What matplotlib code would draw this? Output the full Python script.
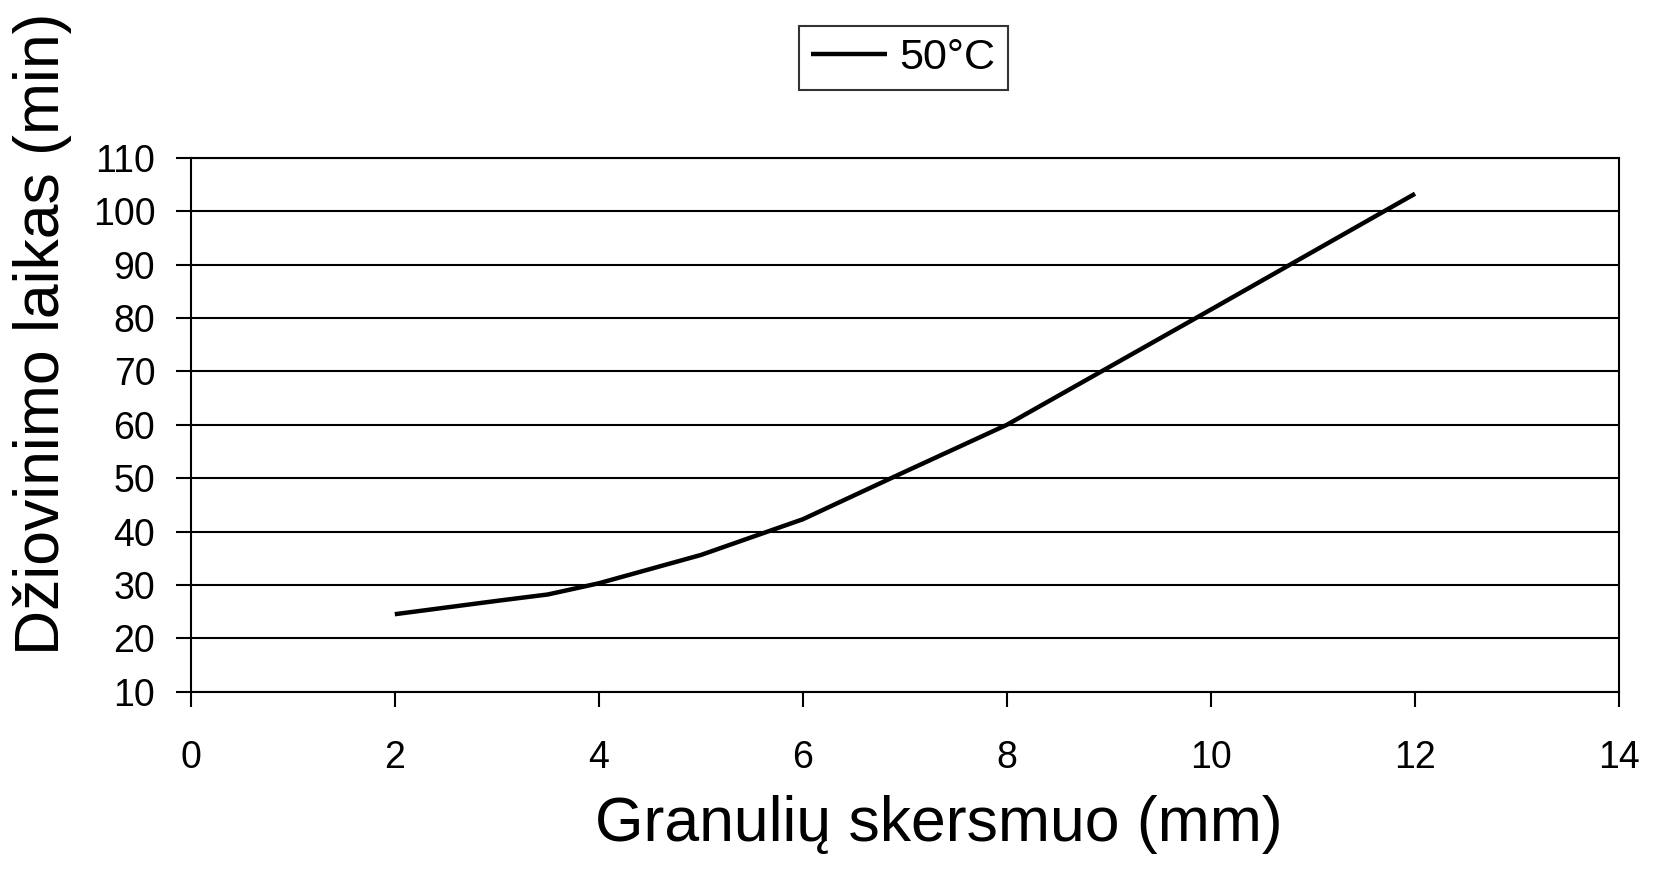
import matplotlib.pyplot as plt
import numpy as np

plt.rcParams['font.family'] = ['Liberation Sans', 'DejaVu Sans']

## data
skersmuo = [2, 3, 3.5, 4, 5, 6, 7, 8, 10, 12]          # mm
laikas = [24.5, 27.0, 28.2, 30.3, 35.6, 42.3, 51.2, 60.0, 81.6, 103.3]  # min
series_label = '50°C'

x_ticks = [0, 2, 4, 6, 8, 10, 12, 14]
y_ticks = [10, 20, 30, 40, 50, 60, 70, 80, 90, 100, 110]

fig = plt.figure(figsize=(16.53, 8.80), dpi=100)
ax = fig.add_axes([0.1154, 0.2141, 0.8641, 0.6064])

ax.plot(skersmuo, laikas, color='black', lw=3.2, label=series_label,
        solid_capstyle='butt', zorder=3)

ax.set_xlim(0, 14)
ax.set_ylim(10, 110)
ax.set_xticks(x_ticks)
ax.set_yticks(y_ticks)

# horizontal grid only
for v in y_ticks:
    ax.axhline(v, color='black', lw=1.5, zorder=1)

for s in ax.spines.values():
    s.set_color('black')
    s.set_linewidth(1.5)

ax.tick_params(axis='both', direction='out', length=10.5, width=1.5,
               labelsize=27, colors='black')
ax.tick_params(axis='x', pad=24)
ax.tick_params(axis='y', pad=15)

fig.text(0.568, 0.063, 'Granulių skersmuo (mm)', fontsize=45,
         ha='center', va='center')
fig.text(0.026, 0.621, 'Džiovinimo laikas (min)', fontsize=45,
         ha='center', va='center', rotation=90)

leg = fig.legend(loc='center', bbox_to_anchor=(0.5465, 0.934), fontsize=31,
                 frameon=True, fancybox=False, handlelength=1.75,
                 handletextpad=0.3, borderpad=0.28, borderaxespad=0)
leg.get_frame().set_edgecolor('black')
leg.get_frame().set_linewidth(1.5)

fig.savefig('out.png', dpi=100, facecolor='white')
